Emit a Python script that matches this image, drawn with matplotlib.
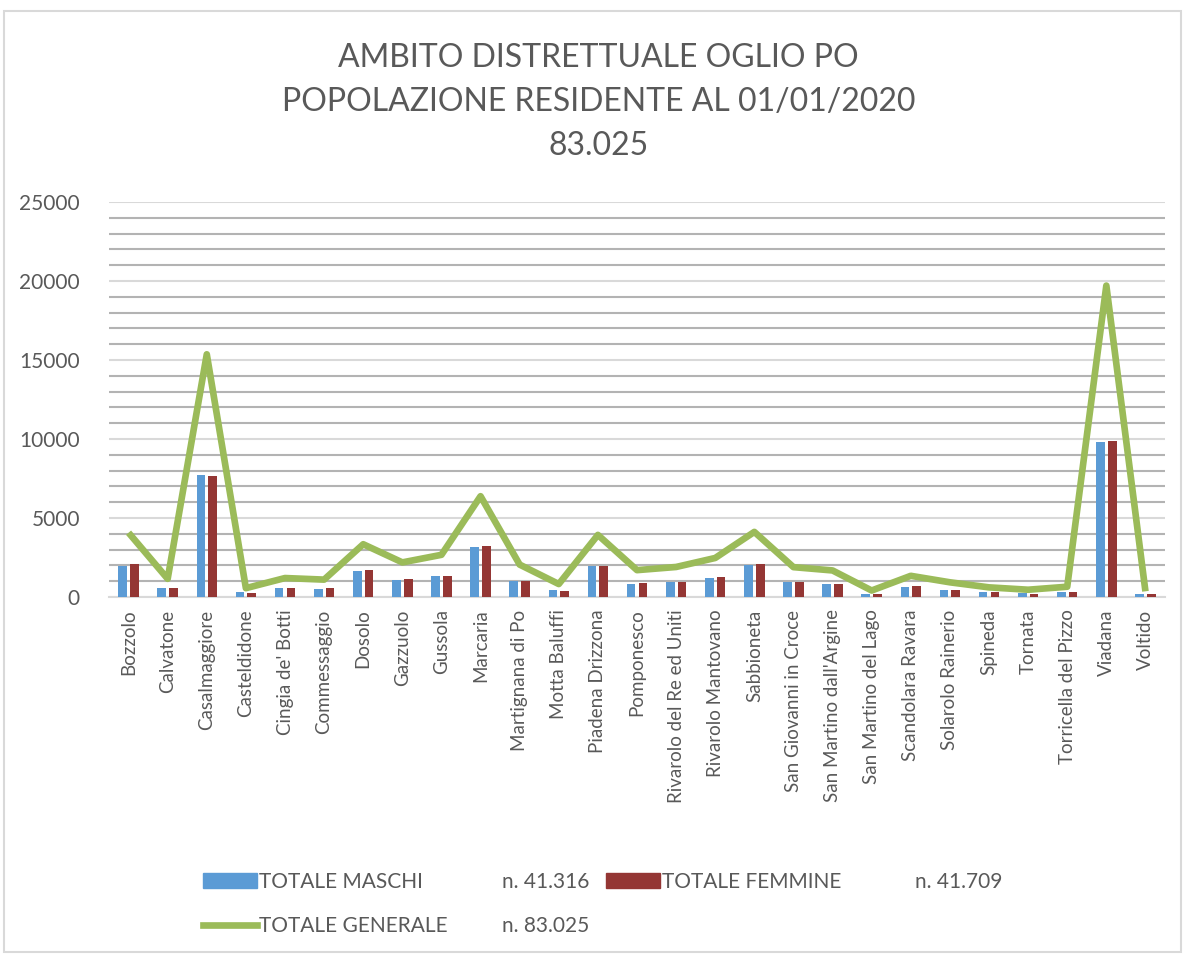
import matplotlib
matplotlib.use("Agg")
import matplotlib.pyplot as plt
from matplotlib.patches import Patch, Rectangle
from matplotlib.lines import Line2D
from matplotlib.ticker import MultipleLocator
import numpy as np

plt.rcParams["font.family"] = ["Lato", "DejaVu Sans"]

comuni = ["Bozzolo", "Calvatone", "Casalmaggiore", "Casteldidone", "Cingia de' Botti",
          "Commessaggio", "Dosolo", "Gazzuolo", "Gussola", "Marcaria", "Martignana di Po",
          "Motta Baluffi", "Piadena Drizzona", "Pomponesco", "Rivarolo del Re ed Uniti",
          "Rivarolo Mantovano", "Sabbioneta", "San Giovanni in Croce", "San Martino dall'Argine",
          "San Martino del Lago", "Scandolara Ravara", "Solarolo Rainerio", "Spineda",
          "Tornata", "Torricella del Pizzo", "Viadana", "Voltido"]
maschi = [1990, 590, 7700, 290, 600, 530, 1650, 1080, 1320, 3150, 1030, 420, 1940,
          840, 950, 1220, 2040, 920, 830, 200, 660, 460, 300, 240, 320, 9830, 190]
femmine = [2080, 560, 7660, 270, 600, 570, 1690, 1110, 1350, 3230, 1020, 400, 1990,
           860, 950, 1250, 2080, 970, 850, 210, 680, 470, 310, 220, 330, 9880, 170]
totale = [4070, 1150, 15360, 560, 1200, 1100, 3340, 2190, 2670, 6380, 2050, 820, 3930,
          1700, 1900, 2470, 4120, 1890, 1680, 410, 1340, 930, 610, 460, 650, 19710, 360]

titolo = "AMBITO DISTRETTUALE OGLIO PO\nPOPOLAZIONE RESIDENTE AL 01/01/2020\n83.025"
legenda = [("TOTALE MASCHI", "n. 41.316"), ("TOTALE FEMMINE", "n. 41.709"),
           ("TOTALE GENERALE", "n. 83.025")]

BLUE = "#5B9BD5"
RED = "#943634"
GREEN = "#9BBB59"
TXT = "#595959"

W, H = 1185, 956
fig = plt.figure(figsize=(W / 100, H / 100), dpi=100)
ax = fig.add_axes([109 / W, 1 - 597 / H, (1165 - 109) / W, (597 - 202) / H])

x = np.arange(len(comuni))
ax.bar(x - 0.15, maschi, width=0.22, color=BLUE, zorder=3)
ax.bar(x + 0.15, femmine, width=0.22, color=RED, zorder=3)
ax.plot(x, totale, color=GREEN, lw=4.8, solid_joinstyle="round", solid_capstyle="butt", zorder=4)

ax.set_xlim(-0.5, len(comuni) - 0.5)
ax.set_ylim(0, 25000)
ax.yaxis.set_major_locator(MultipleLocator(5000))
ax.yaxis.set_minor_locator(MultipleLocator(1000))
ax.grid(which="major", axis="y", color="#d9d9d9", lw=1.5, zorder=0)
ax.grid(which="minor", axis="y", color="#b3b3b3", lw=1.5, zorder=0)
ax.set_axisbelow(True)
for s in ["top", "right", "left"]:
    ax.spines[s].set_visible(False)
ax.spines["bottom"].set_color("#d9d9d9")
ax.spines["bottom"].set_linewidth(1.5)
ax.tick_params(which="both", length=0)
ax.tick_params(axis="y", labelsize=15, labelcolor=TXT, pad=21)
ax.set_xticks(x)
ax.set_xticklabels(comuni, rotation=90, fontsize=13.5, color=TXT)
ax.tick_params(axis="x", pad=9)

fig.text(0.505, 1 - 102 / H, titolo, ha="center", va="center", fontsize=23,
         color=TXT, linespacing=1.6)

# legend, one entry at a time so the numbers line up like the original
handles = [Patch(color=BLUE), Patch(color=RED), Line2D([0], [0], color=GREEN, lw=4.8)]
pos = [(203, 882, 502), (606, 882, 915), (203, 926, 502)]
for h, (lab, num), (lx, ly, nx) in zip(handles, legenda, pos):
    fig.legend([h], [lab], loc="center left", bbox_to_anchor=(lx / W, 1 - ly / H),
               frameon=False, fontsize=15, labelcolor=TXT, handlelength=2.6,
               handleheight=0.75, handletextpad=0.1, borderpad=0, borderaxespad=0)
    fig.text(nx / W, 1 - ly / H, num, ha="left", va="center", fontsize=15, color=TXT)

fig.add_artist(Rectangle((4 / W, 4 / H), 1177 / W, (952 - 11) / H, transform=fig.transFigure,
                         fill=False, edgecolor="#d9d9d9", lw=1.5))

fig.savefig("out.png", dpi=100)
